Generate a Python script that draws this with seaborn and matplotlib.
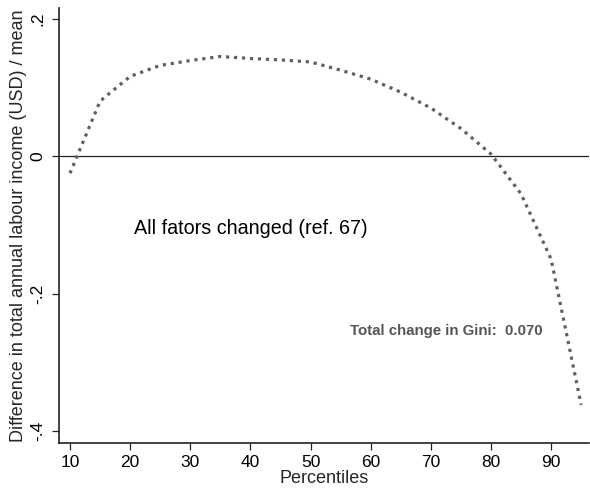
import matplotlib
matplotlib.use("Agg")
import matplotlib.pyplot as plt
import seaborn as sns
import pandas as pd

percentiles = [10, 15, 20, 25, 30, 35, 40, 45, 50, 55, 60, 65, 70, 75, 80, 85, 90, 95]
difference = [-0.025, 0.080, 0.116, 0.132, 0.139, 0.145, 0.142, 0.140, 0.137, 0.125,
              0.112, 0.093, 0.070, 0.040, 0.003, -0.055, -0.150, -0.362]
x_ticks = [10, 20, 30, 40, 50, 60, 70, 80, 90]
y_ticks = [-0.4, -0.2, 0.0, 0.2]
y_tick_labels = ["-.4", "-.2", "0", ".2"]

sns.set_style("white")
plt.rcParams['font.family'] = ['Liberation Sans', 'DejaVu Sans']

df = pd.DataFrame({"Percentiles": percentiles, "Difference": difference})

fig = plt.figure(figsize=(5.9, 4.88), dpi=100)
ax = fig.add_axes([59/590, 1-443/488, 530/590, 435/488])

ax.axhline(0, color="#222222", lw=0.9, zorder=1)
sns.lineplot(data=df, x="Percentiles", y="Difference", ax=ax, color="#606060",
             lw=2.3, zorder=2)
line = ax.lines[-1]
line.set_dashes((1, 1.5))
line.set_dash_capstyle("butt")

ax.set_xlim(8.17, 96.3)
ax.set_ylim(-0.4175, 0.2155)
ax.set_xticks(x_ticks)
ax.set_xticklabels([str(v) for v in x_ticks], fontsize=12.5)
ax.set_yticks(y_ticks)
ax.set_yticklabels(y_tick_labels, fontsize=12.5, rotation=90, va="center")
ax.tick_params(axis="x", length=5, width=0.9, color="#222222", direction="out",
               bottom=True, pad=3.5, labelcolor="black")
ax.tick_params(axis="y", length=5, width=0.9, color="#222222", direction="out",
               left=True, pad=5, labelcolor="black")
for s in ["top", "right"]:
    ax.spines[s].set_visible(False)
for s in ["left", "bottom"]:
    ax.spines[s].set_color("#222222")
    ax.spines[s].set_linewidth(1.2)

ax.set_xlabel("Percentiles", fontsize=13, labelpad=0)
ax.set_ylabel("Difference in total annual labour income (USD) / mean", fontsize=13, labelpad=2)

ax.text(40.1, -0.105, "All fators changed (ref. 67)", fontsize=14.2, ha="center", va="center",
        color="black")
ax.text(72.6, -0.254, "Total change in Gini:  0.070", fontsize=10.8, ha="center", va="center",
        color="#555555", fontweight="bold")

fig.savefig("out.png", dpi=100)
